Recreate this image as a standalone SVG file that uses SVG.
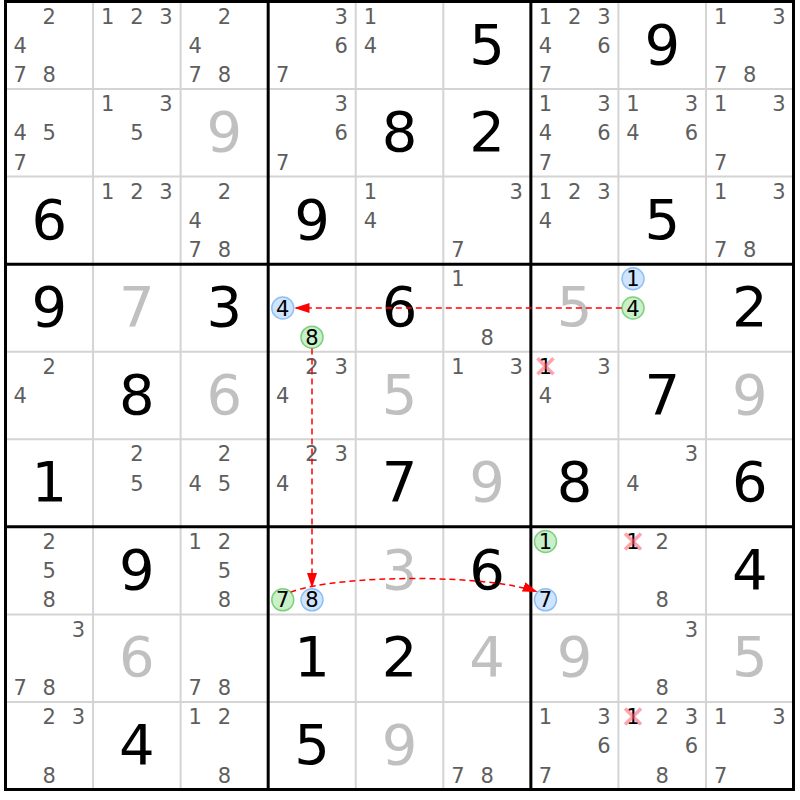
<svg xmlns="http://www.w3.org/2000/svg" width="800" height="800" viewBox="0 0 800 800">
<style>
.c{font-family:"DejaVu Sans","Liberation Sans",sans-serif;font-size:21px;fill:#5e5e5e;text-anchor:middle}
.k{font-family:"DejaVu Sans","Liberation Sans",sans-serif;font-size:21px;fill:#000;text-anchor:middle}
.g{font-family:"DejaVu Sans","Liberation Sans",sans-serif;font-size:56px;fill:#000;text-anchor:middle}
.s{font-family:"DejaVu Sans","Liberation Sans",sans-serif;font-size:56px;fill:#c0c0c0;text-anchor:middle}
.b{fill:#cfe5ff;stroke:#8fc0f2;stroke-width:1.5}
.n{fill:#c9f0c9;stroke:#7fd07f;stroke-width:1.5}
.x{stroke:#ff5a6e;stroke-opacity:0.55;stroke-width:3.5}
.thin{stroke:#d4d4d4;stroke-width:2;fill:none}
.thick{stroke:#000;stroke-width:3;fill:none}
.lk{stroke:#ff0000;stroke-width:1.5;stroke-dasharray:6,4;fill:none}
</style>
<defs>
<marker id="ah" viewBox="0 0 15 10" refX="15" refY="5" markerWidth="15" markerHeight="10" markerUnits="userSpaceOnUse" orient="auto"><path d="M0,0 L15,5 L0,10 z" fill="#ff0000"/></marker>
</defs>
<rect width="800" height="800" fill="#fff"/>
<g id="grid">
<path class="thin" d="M93.06,1.5V789.5M180.62,1.5V789.5M355.74,1.5V789.5M443.3,1.5V789.5M618.42,1.5V789.5M705.98,1.5V789.5M5.5,89.06H793.5M5.5,176.62H793.5M5.5,351.74H793.5M5.5,439.3H793.5M5.5,614.42H793.5M5.5,701.98H793.5"/>
<path class="thick" d="M268.18,1.5V789.5M530.86,1.5V789.5M5.5,264.18H793.5M5.5,526.86H793.5"/>
<rect class="thick" x="5.5" y="1.5" width="788" height="788"/>
</g>
<!-- Row 0 -->
<g id="r0c0" transform="translate(5.5,1.5)"><text class="c" x="43.8" y="22.2">2</text><text class="c" x="14.6" y="51.4">4</text><text class="c" x="14.6" y="80.6">7</text><text class="c" x="43.8" y="80.6">8</text></g>
<g id="r0c1" transform="translate(93.06,1.5)"><text class="c" x="14.6" y="22.2">1</text><text class="c" x="43.8" y="22.2">2</text><text class="c" x="73" y="22.2">3</text></g>
<g id="r0c2" transform="translate(180.62,1.5)"><text class="c" x="43.8" y="22.2">2</text><text class="c" x="14.6" y="51.4">4</text><text class="c" x="14.6" y="80.6">7</text><text class="c" x="43.8" y="80.6">8</text></g>
<g id="r0c3" transform="translate(268.18,1.5)"><text class="c" x="73" y="22.2">3</text><text class="c" x="73" y="51.4">6</text><text class="c" x="14.6" y="80.6">7</text></g>
<g id="r0c4" transform="translate(355.74,1.5)"><text class="c" x="14.6" y="22.2">1</text><text class="c" x="14.6" y="51.4">4</text></g>
<g id="r0c5" transform="translate(443.3,1.5)"><text class="g" x="43.8" y="62">5</text></g>
<g id="r0c6" transform="translate(530.86,1.5)"><text class="c" x="14.6" y="22.2">1</text><text class="c" x="43.8" y="22.2">2</text><text class="c" x="73" y="22.2">3</text><text class="c" x="14.6" y="51.4">4</text><text class="c" x="73" y="51.4">6</text><text class="c" x="14.6" y="80.6">7</text></g>
<g id="r0c7" transform="translate(618.42,1.5)"><text class="g" x="43.8" y="62">9</text></g>
<g id="r0c8" transform="translate(705.98,1.5)"><text class="c" x="14.6" y="22.2">1</text><text class="c" x="73" y="22.2">3</text><text class="c" x="14.6" y="80.6">7</text><text class="c" x="43.8" y="80.6">8</text></g>
<!-- Row 1 -->
<g id="r1c0" transform="translate(5.5,89.06)"><text class="c" x="14.6" y="51.4">4</text><text class="c" x="43.8" y="51.4">5</text><text class="c" x="14.6" y="80.6">7</text></g>
<g id="r1c1" transform="translate(93.06,89.06)"><text class="c" x="14.6" y="22.2">1</text><text class="c" x="73" y="22.2">3</text><text class="c" x="43.8" y="51.4">5</text></g>
<g id="r1c2" transform="translate(180.62,89.06)"><text class="s" x="43.8" y="62">9</text></g>
<g id="r1c3" transform="translate(268.18,89.06)"><text class="c" x="73" y="22.2">3</text><text class="c" x="73" y="51.4">6</text><text class="c" x="14.6" y="80.6">7</text></g>
<g id="r1c4" transform="translate(355.74,89.06)"><text class="g" x="43.8" y="62">8</text></g>
<g id="r1c5" transform="translate(443.3,89.06)"><text class="g" x="43.8" y="62">2</text></g>
<g id="r1c6" transform="translate(530.86,89.06)"><text class="c" x="14.6" y="22.2">1</text><text class="c" x="73" y="22.2">3</text><text class="c" x="14.6" y="51.4">4</text><text class="c" x="73" y="51.4">6</text><text class="c" x="14.6" y="80.6">7</text></g>
<g id="r1c7" transform="translate(618.42,89.06)"><text class="c" x="14.6" y="22.2">1</text><text class="c" x="73" y="22.2">3</text><text class="c" x="14.6" y="51.4">4</text><text class="c" x="73" y="51.4">6</text></g>
<g id="r1c8" transform="translate(705.98,89.06)"><text class="c" x="14.6" y="22.2">1</text><text class="c" x="73" y="22.2">3</text><text class="c" x="14.6" y="80.6">7</text></g>
<!-- Row 2 -->
<g id="r2c0" transform="translate(5.5,176.62)"><text class="g" x="43.8" y="62">6</text></g>
<g id="r2c1" transform="translate(93.06,176.62)"><text class="c" x="14.6" y="22.2">1</text><text class="c" x="43.8" y="22.2">2</text><text class="c" x="73" y="22.2">3</text></g>
<g id="r2c2" transform="translate(180.62,176.62)"><text class="c" x="43.8" y="22.2">2</text><text class="c" x="14.6" y="51.4">4</text><text class="c" x="14.6" y="80.6">7</text><text class="c" x="43.8" y="80.6">8</text></g>
<g id="r2c3" transform="translate(268.18,176.62)"><text class="g" x="43.8" y="62">9</text></g>
<g id="r2c4" transform="translate(355.74,176.62)"><text class="c" x="14.6" y="22.2">1</text><text class="c" x="14.6" y="51.4">4</text></g>
<g id="r2c5" transform="translate(443.3,176.62)"><text class="c" x="73" y="22.2">3</text><text class="c" x="14.6" y="80.6">7</text></g>
<g id="r2c6" transform="translate(530.86,176.62)"><text class="c" x="14.6" y="22.2">1</text><text class="c" x="43.8" y="22.2">2</text><text class="c" x="73" y="22.2">3</text><text class="c" x="14.6" y="51.4">4</text></g>
<g id="r2c7" transform="translate(618.42,176.62)"><text class="g" x="43.8" y="62">5</text></g>
<g id="r2c8" transform="translate(705.98,176.62)"><text class="c" x="14.6" y="22.2">1</text><text class="c" x="73" y="22.2">3</text><text class="c" x="14.6" y="80.6">7</text><text class="c" x="43.8" y="80.6">8</text></g>
<!-- Row 3 -->
<g id="r3c0" transform="translate(5.5,264.18)"><text class="g" x="43.8" y="62">9</text></g>
<g id="r3c1" transform="translate(93.06,264.18)"><text class="s" x="43.8" y="62">7</text></g>
<g id="r3c2" transform="translate(180.62,264.18)"><text class="g" x="43.8" y="62">3</text></g>
<g id="r3c3" transform="translate(268.18,264.18)"><circle class="b" cx="14.6" cy="43.8" r="11"/><text class="k" x="14.6" y="51.4">4</text><circle class="n" cx="43.8" cy="73" r="11"/><text class="k" x="43.8" y="80.6">8</text></g>
<g id="r3c4" transform="translate(355.74,264.18)"><text class="g" x="43.8" y="62">6</text></g>
<g id="r3c5" transform="translate(443.3,264.18)"><text class="c" x="14.6" y="22.2">1</text><text class="c" x="43.8" y="80.6">8</text></g>
<g id="r3c6" transform="translate(530.86,264.18)"><text class="s" x="43.8" y="62">5</text></g>
<g id="r3c7" transform="translate(618.42,264.18)"><circle class="b" cx="14.6" cy="14.6" r="11"/><text class="k" x="14.6" y="22.2">1</text><circle class="n" cx="14.6" cy="43.8" r="11"/><text class="k" x="14.6" y="51.4">4</text></g>
<g id="r3c8" transform="translate(705.98,264.18)"><text class="g" x="43.8" y="62">2</text></g>
<!-- Row 4 -->
<g id="r4c0" transform="translate(5.5,351.74)"><text class="c" x="43.8" y="22.2">2</text><text class="c" x="14.6" y="51.4">4</text></g>
<g id="r4c1" transform="translate(93.06,351.74)"><text class="g" x="43.8" y="62">8</text></g>
<g id="r4c2" transform="translate(180.62,351.74)"><text class="s" x="43.8" y="62">6</text></g>
<g id="r4c3" transform="translate(268.18,351.74)"><text class="c" x="43.8" y="22.2">2</text><text class="c" x="73" y="22.2">3</text><text class="c" x="14.6" y="51.4">4</text></g>
<g id="r4c4" transform="translate(355.74,351.74)"><text class="s" x="43.8" y="62">5</text></g>
<g id="r4c5" transform="translate(443.3,351.74)"><text class="c" x="14.6" y="22.2">1</text><text class="c" x="73" y="22.2">3</text></g>
<g id="r4c6" transform="translate(530.86,351.74)"><text class="k" x="14.6" y="22.2">1</text><path class="x" d="M6.6,6.6L22.6,22.6M22.6,6.6L6.6,22.6"/><text class="c" x="73" y="22.2">3</text><text class="c" x="14.6" y="51.4">4</text></g>
<g id="r4c7" transform="translate(618.42,351.74)"><text class="g" x="43.8" y="62">7</text></g>
<g id="r4c8" transform="translate(705.98,351.74)"><text class="s" x="43.8" y="62">9</text></g>
<!-- Row 5 -->
<g id="r5c0" transform="translate(5.5,439.3)"><text class="g" x="43.8" y="62">1</text></g>
<g id="r5c1" transform="translate(93.06,439.3)"><text class="c" x="43.8" y="22.2">2</text><text class="c" x="43.8" y="51.4">5</text></g>
<g id="r5c2" transform="translate(180.62,439.3)"><text class="c" x="43.8" y="22.2">2</text><text class="c" x="14.6" y="51.4">4</text><text class="c" x="43.8" y="51.4">5</text></g>
<g id="r5c3" transform="translate(268.18,439.3)"><text class="c" x="43.8" y="22.2">2</text><text class="c" x="73" y="22.2">3</text><text class="c" x="14.6" y="51.4">4</text></g>
<g id="r5c4" transform="translate(355.74,439.3)"><text class="g" x="43.8" y="62">7</text></g>
<g id="r5c5" transform="translate(443.3,439.3)"><text class="s" x="43.8" y="62">9</text></g>
<g id="r5c6" transform="translate(530.86,439.3)"><text class="g" x="43.8" y="62">8</text></g>
<g id="r5c7" transform="translate(618.42,439.3)"><text class="c" x="73" y="22.2">3</text><text class="c" x="14.6" y="51.4">4</text></g>
<g id="r5c8" transform="translate(705.98,439.3)"><text class="g" x="43.8" y="62">6</text></g>
<!-- Row 6 -->
<g id="r6c0" transform="translate(5.5,526.86)"><text class="c" x="43.8" y="22.2">2</text><text class="c" x="43.8" y="51.4">5</text><text class="c" x="43.8" y="80.6">8</text></g>
<g id="r6c1" transform="translate(93.06,526.86)"><text class="g" x="43.8" y="62">9</text></g>
<g id="r6c2" transform="translate(180.62,526.86)"><text class="c" x="14.6" y="22.2">1</text><text class="c" x="43.8" y="22.2">2</text><text class="c" x="43.8" y="51.4">5</text><text class="c" x="43.8" y="80.6">8</text></g>
<g id="r6c3" transform="translate(268.18,526.86)"><circle class="n" cx="14.6" cy="73" r="11"/><text class="k" x="14.6" y="80.6">7</text><circle class="b" cx="43.8" cy="73" r="11"/><text class="k" x="43.8" y="80.6">8</text></g>
<g id="r6c4" transform="translate(355.74,526.86)"><text class="s" x="43.8" y="62">3</text></g>
<g id="r6c5" transform="translate(443.3,526.86)"><text class="g" x="43.8" y="62">6</text></g>
<g id="r6c6" transform="translate(530.86,526.86)"><circle class="n" cx="14.6" cy="14.6" r="11"/><text class="k" x="14.6" y="22.2">1</text><circle class="b" cx="14.6" cy="73" r="11"/><text class="k" x="14.6" y="80.6">7</text></g>
<g id="r6c7" transform="translate(618.42,526.86)"><text class="k" x="14.6" y="22.2">1</text><path class="x" d="M6.6,6.6L22.6,22.6M22.6,6.6L6.6,22.6"/><text class="c" x="43.8" y="22.2">2</text><text class="c" x="43.8" y="80.6">8</text></g>
<g id="r6c8" transform="translate(705.98,526.86)"><text class="g" x="43.8" y="62">4</text></g>
<!-- Row 7 -->
<g id="r7c0" transform="translate(5.5,614.42)"><text class="c" x="73" y="22.2">3</text><text class="c" x="14.6" y="80.6">7</text><text class="c" x="43.8" y="80.6">8</text></g>
<g id="r7c1" transform="translate(93.06,614.42)"><text class="s" x="43.8" y="62">6</text></g>
<g id="r7c2" transform="translate(180.62,614.42)"><text class="c" x="14.6" y="80.6">7</text><text class="c" x="43.8" y="80.6">8</text></g>
<g id="r7c3" transform="translate(268.18,614.42)"><text class="g" x="43.8" y="62">1</text></g>
<g id="r7c4" transform="translate(355.74,614.42)"><text class="g" x="43.8" y="62">2</text></g>
<g id="r7c5" transform="translate(443.3,614.42)"><text class="s" x="43.8" y="62">4</text></g>
<g id="r7c6" transform="translate(530.86,614.42)"><text class="s" x="43.8" y="62">9</text></g>
<g id="r7c7" transform="translate(618.42,614.42)"><text class="c" x="73" y="22.2">3</text><text class="c" x="43.8" y="80.6">8</text></g>
<g id="r7c8" transform="translate(705.98,614.42)"><text class="s" x="43.8" y="62">5</text></g>
<!-- Row 8 -->
<g id="r8c0" transform="translate(5.5,701.98)"><text class="c" x="43.8" y="22.2">2</text><text class="c" x="73" y="22.2">3</text><text class="c" x="43.8" y="80.6">8</text></g>
<g id="r8c1" transform="translate(93.06,701.98)"><text class="g" x="43.8" y="62">4</text></g>
<g id="r8c2" transform="translate(180.62,701.98)"><text class="c" x="14.6" y="22.2">1</text><text class="c" x="43.8" y="22.2">2</text><text class="c" x="43.8" y="80.6">8</text></g>
<g id="r8c3" transform="translate(268.18,701.98)"><text class="g" x="43.8" y="62">5</text></g>
<g id="r8c4" transform="translate(355.74,701.98)"><text class="s" x="43.8" y="62">9</text></g>
<g id="r8c5" transform="translate(443.3,701.98)"><text class="c" x="14.6" y="80.6">7</text><text class="c" x="43.8" y="80.6">8</text></g>
<g id="r8c6" transform="translate(530.86,701.98)"><text class="c" x="14.6" y="22.2">1</text><text class="c" x="73" y="22.2">3</text><text class="c" x="73" y="51.4">6</text><text class="c" x="14.6" y="80.6">7</text></g>
<g id="r8c7" transform="translate(618.42,701.98)"><text class="k" x="14.6" y="22.2">1</text><path class="x" d="M6.6,6.6L22.6,22.6M22.6,6.6L6.6,22.6"/><text class="c" x="43.8" y="22.2">2</text><text class="c" x="73" y="22.2">3</text><text class="c" x="73" y="51.4">6</text><text class="c" x="43.8" y="80.6">8</text></g>
<g id="r8c8" transform="translate(705.98,701.98)"><text class="c" x="14.6" y="22.2">1</text><text class="c" x="73" y="22.2">3</text><text class="c" x="14.6" y="80.6">7</text></g>
<g id="connectors">
<path class="lk" d="M621.8,308 L294.5,308" marker-end="url(#ah)"/>
<path class="lk" d="M312,348.5 L312,588" marker-end="url(#ah)"/>
<path class="lk" d="M290.6,592.1 C339,574 489,574 537.7,592.1" marker-end="url(#ah)"/>
</g>
</svg>
